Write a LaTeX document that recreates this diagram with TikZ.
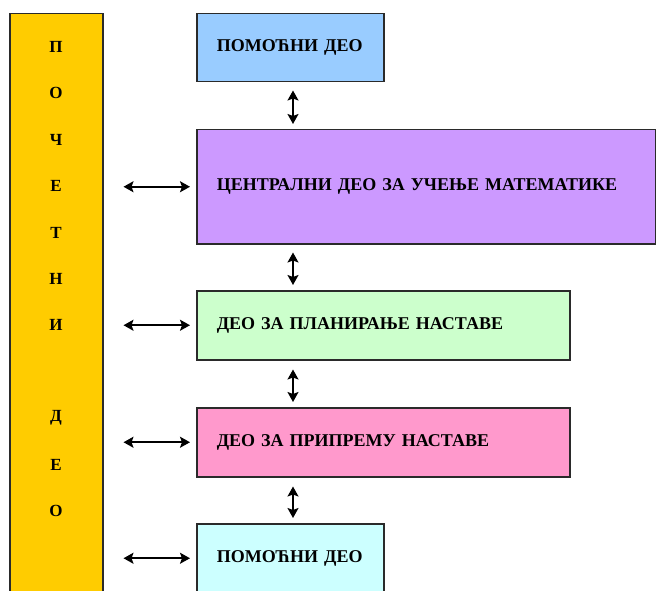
\documentclass[tikz,border=0pt]{standalone}
\usepackage{fontspec}
\setmainfont{Liberation Serif}
\usepackage{xcolor}
\usetikzlibrary{arrows.meta,calc,positioning}

\definecolor{barcol}{HTML}{FFCC00}
\definecolor{blucol}{HTML}{99CCFF}
\definecolor{purcol}{HTML}{CC99FF}
\definecolor{grncol}{HTML}{CCFFCC}
\definecolor{pnkcol}{HTML}{FF99CC}
\definecolor{cyncol}{HTML}{CCFFFF}
\definecolor{edgecol}{HTML}{2A2A2A}

\tikzset{
  part/.style={draw=edgecol, line width=1.5pt, rectangle, anchor=north west,
    inner xsep=20pt, inner ysep=0pt, align=left,
    font=\fontsize{18}{20}\selectfont\bfseries},
  letter/.style={font=\fontsize{17}{20}\selectfont\bfseries},
  dbl/.style={{Stealth[length=10pt,width=11pt,inset=2pt]}-{Stealth[length=10pt,width=11pt,inset=2pt]},
    line width=1.6pt, black}
}

\begin{document}
\begin{tikzpicture}[x=1pt, y=-1pt]
    \useasboundingbox (0,0) rectangle (656,591);
    \clip (0,0) rectangle (656,591);

    % pocetni deo
    \node[draw=edgecol, line width=1.5pt, fill=barcol, anchor=north west,
      minimum width=93pt, minimum height=600pt, inner sep=0pt] (bar) at (9,13) {};
    \foreach \i/\l in {0/П,1/О,2/Ч,3/Е,4/Т,5/Н,6/И,8/Д,9/Е,10/О} {
        \node[letter] (let\i) at (56,47+46.4*\i) {\l};
    }

    % delovi
    \node[part, fill=blucol, text width=147pt, minimum height=68pt] (pom1) at (196,13)
      {ПОМОЋНИ ДЕО};
    \node[part, fill=purcol, text width=419pt, minimum height=114pt] (cent) at (196,129)
      {ЦЕНТРАЛНИ ДЕО ЗА УЧЕЊЕ МАТЕМАТИКЕ};
    \node[part, fill=grncol, text width=333pt, minimum height=69pt] (plan) at (196,290)
      {ДЕО ЗА ПЛАНИРАЊЕ НАСТАВЕ};
    \node[part, fill=pnkcol, text width=333pt, minimum height=69pt] (prip) at (196,407)
      {ДЕО ЗА ПРИПРЕМУ НАСТАВЕ};
    \node[part, fill=cyncol, text width=147pt, minimum height=69pt] (pom2) at (196,523)
      {ПОМОЋНИ ДЕО};

    % vertikalne strelice
    \draw[dbl, shorten <=8pt, shorten >=5pt]
      ([xshift=97pt]pom1.south west) -- ([xshift=97pt]cent.north west);
    \draw[dbl, shorten <=8pt, shorten >=5pt]
      ([xshift=97pt]cent.south west) -- ([xshift=97pt]plan.north west);
    \draw[dbl, shorten <=9pt, shorten >=5pt]
      ([xshift=97pt]plan.south west) -- ([xshift=97pt]prip.north west);
    \draw[dbl, shorten <=9pt, shorten >=5pt]
      ([xshift=97pt]prip.south west) -- ([xshift=97pt]pom2.north west);

    % horizontalne strelice
    \foreach \n in {cent,plan,prip,pom2} {
        \draw[dbl, shorten <=20pt, shorten >=6pt] (bar.east |- \n.west) -- (\n.west);
    }
\end{tikzpicture}
\end{document}
